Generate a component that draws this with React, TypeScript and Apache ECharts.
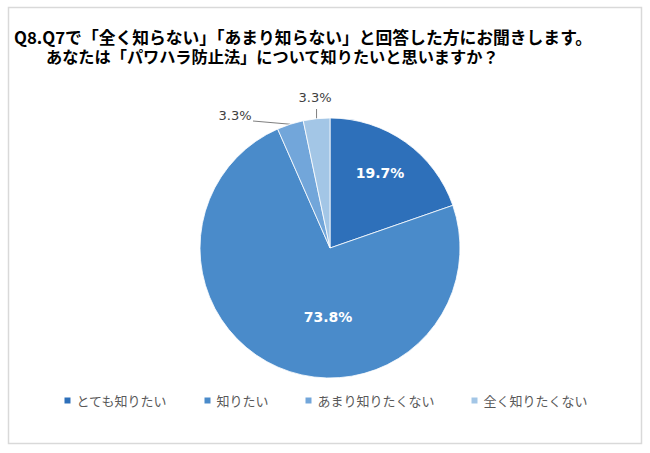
import React, { useEffect, useRef } from "react";
import * as echarts from "echarts";

const titleLine1 = "Q8.Q7で「全く知らない」「あまり知らない」と回答した方にお聞きします。";
const titleLine2 = "あなたは「パワハラ防止法」について知りたいと思いますか？";
const categories = ["とても知りたい", "知りたい", "あまり知りたくない", "全く知りたくない"];
const values = [19.7, 73.8, 3.3, 3.3];
const colors = ["#2E70BA", "#4A8BCA", "#72A6DA", "#A3C6E6"];

export default function App() {
  const ref = useRef<HTMLDivElement>(null);
  useEffect(() => {
    if (!ref.current) return;
    const chart = echarts.init(ref.current, null, { renderer: "svg" });
    const cx = 330;
    const cy = 248;
    const R = 130;
    const titleStyle = {
      fontFamily: "'Noto Sans CJK JP', sans-serif",
      fontSize: 16.8,
      fontWeight: "bold",
      color: "#000000",
      lineHeight: 17,
    };
    chart.setOption({
      animation: false,
      backgroundColor: "#ffffff",
      title: [
        { text: titleLine1, left: 14, top: 28, padding: 0, textStyle: titleStyle },
        { text: titleLine2, left: 46, top: 48, padding: 0, textStyle: { ...titleStyle, fontSize: 16.2, lineHeight: 16 } },
      ],
      graphic: [
        {
          type: "rect",
          shape: { x: 8.5, y: 7.5, width: 633, height: 436 },
          style: { fill: "none", stroke: "#d9d9d9", lineWidth: 1.5 },
          silent: true,
        },
      ],
      legend: {
        left: "center",
        top: 389,
        itemWidth: 8,
        itemHeight: 8,
        itemGap: 35,
        icon: "rect",
        textStyle: {
          fontFamily: "'Noto Sans CJK JP', sans-serif",
          fontSize: 13,
          color: "#595959",
        },
        data: categories,
      },
      series: [
        {
          type: "pie",
          center: [cx, cy],
          radius: [0, R],
          startAngle: 90,
          clockwise: true,
          color: colors,
          itemStyle: { borderColor: "#ffffff", borderWidth: 0.8 },
          label: {
            show: true,
            formatter: (p: any) => p.value.toFixed(1) + "%",
          },
          labelLine: { show: true, lineStyle: { color: "#7f7f7f", width: 1 }, length: 10, length2: 0 },
          labelLayout: (p: any) => {
            const i = p.dataIndex;
            const pts = p.labelLinePoints;
            if (i === 0) return { x: 380, y: 173, align: "center", verticalAlign: "middle" };
            if (i === 1) return { x: 328, y: 317, align: "center", verticalAlign: "middle" };
            if (i === 2) {
              const p0 = pts ? pts[0] : [291, 124];
              return {
                x: 235, y: 115, align: "center", verticalAlign: "middle",
                labelLinePoints: [p0, [253, 121], [253, 121]],
              };
            }
            const p0 = pts ? pts[0] : [316, 119];
            return {
              x: 315, y: 97, align: "center", verticalAlign: "middle",
              labelLinePoints: [p0, [p0[0], 109], [p0[0], 109]],
            };
          },
          data: categories.map((name, i) => ({
            name,
            value: values[i],
            label:
              i < 2
                ? {
                    position: "inside",
                    color: "#ffffff",
                    fontFamily: "'DejaVu Sans', sans-serif",
                    fontWeight: "bold",
                    fontSize: 14,
                  }
                : {
                    position: "outside",
                    color: "#404040",
                    fontFamily: "'DejaVu Sans', sans-serif",
                    fontSize: 13,
                  },
            labelLine: { show: i >= 2 },
          })),
        },
      ],
    });
    return () => chart.dispose();
  }, []);
  return (
    <div
      ref={ref}
      style={{ position: "absolute", left: 0, top: 0, width: 650, height: 453 }}
    />
  );
}
